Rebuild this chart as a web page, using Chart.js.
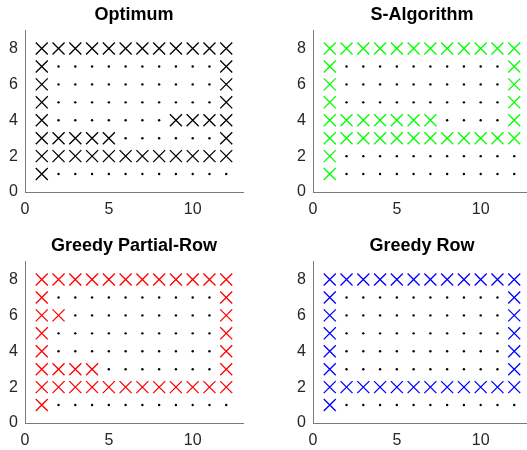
<!DOCTYPE html>
<html>
<head>
<meta charset="utf-8">
<script src="https://cdn.jsdelivr.net/npm/chart.js@4/dist/chart.umd.min.js"></script>
<style>
html,body{margin:0;padding:0;background:#fff;overflow:hidden;width:527px;height:450px;}
canvas{position:absolute;}
</style>
</head>
<body>
<canvas id="c1" width="260" height="225" style="left:0px;top:0px;width:260px;height:225px"></canvas>
<canvas id="c2" width="260" height="225" style="left:288px;top:0px;width:260px;height:225px"></canvas>
<canvas id="c3" width="260" height="225" style="left:0px;top:231px;width:260px;height:225px"></canvas>
<canvas id="c4" width="260" height="225" style="left:288px;top:231px;width:260px;height:225px"></canvas>
<script>
// Grid: columns 1..12, rows 1..8
const columns = [1,2,3,4,5,6,7,8,9,10,11,12];
const rows = [1,2,3,4,5,6,7,8];
const xTicks = [0,5,10];
const yTicks = [0,2,4,6,8];
const titles = ["Optimum","S-Algorithm","Greedy Partial-Row","Greedy Row"];
const markColors = ["#000000","#00ff00","#ff0000","#0000ff"];

// Marked (X) columns for each row, listed from row 1 to row 8
const optimumMarked = [
  [1],
  [1,2,3,4,5,6,7,8,9,10,11,12],
  [1,2,3,4,5,12],
  [1,9,10,11,12],
  [1,12],
  [1,12],
  [1,12],
  [1,2,3,4,5,6,7,8,9,10,11,12]
];
const sAlgorithmMarked = [
  [1],
  [1],
  [1,2,3,4,5,6,7,8,9,10,11,12],
  [1,2,3,4,5,6,7,12],
  [1,12],
  [1,12],
  [1,12],
  [1,2,3,4,5,6,7,8,9,10,11,12]
];
const greedyPartialRowMarked = [
  [1],
  [1,2,3,4,5,6,7,8,9,10,11,12],
  [1,2,3,4,12],
  [1,12],
  [1,12],
  [1,2,12],
  [1,12],
  [1,2,3,4,5,6,7,8,9,10,11,12]
];
const greedyRowMarked = [
  [1],
  [1,2,3,4,5,6,7,8,9,10,11,12],
  [1,12],
  [1,12],
  [1,12],
  [1,12],
  [1,12],
  [1,2,3,4,5,6,7,8,9,10,11,12]
];
const allMarked = [optimumMarked, sAlgorithmMarked, greedyPartialRowMarked, greedyRowMarked];

const FONT = "'Liberation Sans', Arial, Helvetica, sans-serif";
const AXIS_COLOR = "#7a7a7a";
const LABEL_COLOR = "#262626";

function splitPoints(marked){
  const marks = [], dots = [];
  rows.forEach((r, i) => {
    columns.forEach(c => {
      if (marked[i].includes(c)) marks.push({x:c, y:r});
      else dots.push({x:c, y:r});
    });
  });
  return {marks, dots};
}

function makeChart(id, idx){
  const {marks, dots} = splitPoints(allMarked[idx]);
  new Chart(document.getElementById(id), {
    type: 'scatter',
    data: {
      datasets: [
        {data: dots, pointStyle: 'circle', pointRadius: 1.2, pointBackgroundColor: '#000', pointBorderColor: '#000', borderWidth: 0, showLine: false},
        {data: marks, pointStyle: 'crossRot', pointRadius: 8.5, pointBorderColor: markColors[idx], pointBackgroundColor: markColors[idx], pointBorderWidth: 1.3, showLine: false}
      ]
    },
    options: {
      responsive: false,
      animation: false,
      events: [],
      layout: {padding: {left: 0, right: 17, top: 0, bottom: 0}},
      plugins: {
        legend: {display: false},
        tooltip: {enabled: false},
        title: {
          display: true, text: titles[idx], fullSize: false,
          color: '#000', font: {family: FONT, size: 18, weight: 'bold'},
          padding: {top: 4, bottom: 5}
        }
      },
      scales: {
        x: {
          type: 'linear', min: 0, max: 13,
          afterBuildTicks: s => { s.ticks = xTicks.map(v => ({value: v})); },
          afterFit: s => { s.height = 33; },
          grid: {display: false, drawTicks: false},
          border: {display: true, color: AXIS_COLOR, width: 1},
          ticks: {color: LABEL_COLOR, font: {family: FONT, size: 16}, padding: 8, maxRotation: 0}
        },
        y: {
          type: 'linear', min: 0, max: 9,
          afterBuildTicks: s => { s.ticks = yTicks.map(v => ({value: v})); },
          afterFit: s => { s.width = 25; },
          grid: {display: false, drawTicks: false},
          border: {display: true, color: AXIS_COLOR, width: 1},
          ticks: {color: LABEL_COLOR, font: {family: FONT, size: 16}, padding: 7}
        }
      }
    }
  });
}
makeChart('c1', 0);
makeChart('c2', 1);
makeChart('c3', 2);
makeChart('c4', 3);
</script>
</body>
</html>
